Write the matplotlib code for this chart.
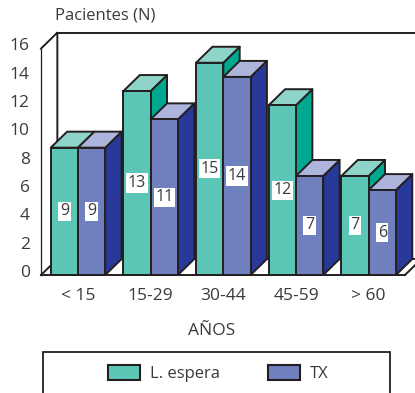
import matplotlib
matplotlib.use("Agg")
import matplotlib.pyplot as plt
from matplotlib.patches import Patch, Polygon, Rectangle
from matplotlib.transforms import ScaledTranslation

plt.rcParams['font.family'] = ['Open Sans', 'DejaVu Sans']

age_groups = ['< 15', '15-29', '30-44', '45-59', '> 60']
lista_espera = [9, 13, 15, 12, 7]
trasplante = [9, 11, 14, 7, 6]
y_ticks = [0, 2, 4, 6, 8, 10, 12, 14, 16]

W, H = 415, 393
EDGE = '#231f20'
TEXT = '#3a3a3c'
teal = ('#5cc6b6', '#8fd4c8', '#00a88f')
blue = ('#7080bf', '#adb5dd', '#28399a')
bar_w = 0.375
dx, dy = 0.225, 1.13   # depth of the 3d effect, in data units
lw = 1.4

fig = plt.figure(figsize=(W / 100, H / 100), dpi=100)
ax = fig.add_axes([41 / W, 1 - 275 / H, 364 / W, 226.4 / H])
ax.set_xlim(-0.509, 4.5)
ax.set_ylim(0, 16)
ax.patch.set_visible(False)

for s in ['top', 'right']:
    ax.spines[s].set_visible(False)
ax.spines['left'].set_linewidth(0.9)
ax.spines['left'].set_color(EDGE)
ax.spines['bottom'].set_linewidth(lw)
ax.spines['bottom'].set_color(EDGE)

ax.set_xticks(range(len(age_groups)), age_groups)
ax.set_yticks(y_ticks)
ax.tick_params(length=0, labelsize=12.5, labelcolor=TEXT)
ax.tick_params(axis='x', pad=9.5)
ax.tick_params(axis='y', pad=8)
shift = ScaledTranslation(0, 3 / 72, fig.dpi_scale_trans)
for lab in ax.get_yticklabels():
    lab.set_transform(lab.get_transform() + shift)

# back wall and floor
x0, x1 = ax.get_xlim()
ax.plot([x0, x0 + dx, x0 + dx], [16, 16 + dy, dy], color=EDGE, lw=lw, clip_on=False, zorder=1)
ax.plot([x0 + dx, x1 + dx], [16 + dy, 16 + dy], color=EDGE, lw=lw, clip_on=False, zorder=1)
ax.plot([x0, x0 + dx], [0, dy], color=EDGE, lw=lw, clip_on=False, zorder=1)
ax.plot([x0 + dx, x1 + dx], [dy, dy], color=EDGE, lw=lw, clip_on=False, zorder=1)
ax.plot([x1, x1 + dx], [0, dy], color=EDGE, lw=lw, clip_on=False, zorder=1)


def bar3d(x, v, colors, z):
    front, top, side = colors
    ax.add_patch(Polygon([(x + bar_w, 0), (x + bar_w + dx, dy), (x + bar_w + dx, v + dy), (x + bar_w, v)],
                         fc=side, ec=EDGE, lw=lw, joinstyle='round', clip_on=False, zorder=z))
    ax.add_patch(Polygon([(x, v), (x + dx, v + dy), (x + bar_w + dx, v + dy), (x + bar_w, v)],
                         fc=top, ec=EDGE, lw=lw, joinstyle='round', clip_on=False, zorder=z))
    ax.bar(x, v, bar_w, align='edge', color=front, edgecolor=EDGE, lw=lw, clip_on=False, zorder=z + 0.1)
    ax.text(x + bar_w / 2, v / 2, str(v), ha='center', va='center', fontsize=11.5, color=TEXT,
            bbox=dict(fc='white', ec='none', pad=1.2), zorder=z + 0.2)


z = 2
for i in range(len(age_groups)):
    bar3d(i - bar_w, lista_espera[i], teal, z)
    bar3d(i, trasplante[i], blue, z + 1)
    z += 2

fig.text(55 / W, 1 - 16 / H, 'Pacientes (N)', fontsize=12, color=TEXT, va='center')
fig.text(212 / W, 1 - 331 / H, 'AÑOS', fontsize=12.5, color=TEXT, ha='center', va='center')

# legend box runs off the bottom of the picture
fig.add_artist(Rectangle((42.5 / W, -0.05), 347 / W, 0.05 + 1 - 352 / H, transform=fig.transFigure,
                         fc='none', ec=EDGE, lw=1.3))
handles = [Patch(fc=teal[0], ec=EDGE, lw=1.5, label='L. espera'),
           Patch(fc=blue[0], ec=EDGE, lw=1.5, label='TX')]
fig.legend(handles=handles, ncol=2, frameon=False, loc='center left',
           bbox_to_anchor=(92.5 / W, 1 - 373.5 / H), fontsize=12, labelcolor=TEXT,
           handlelength=1.92, handleheight=1.0, handletextpad=0.6, columnspacing=2.9)

fig.savefig('out.png', dpi=100)
